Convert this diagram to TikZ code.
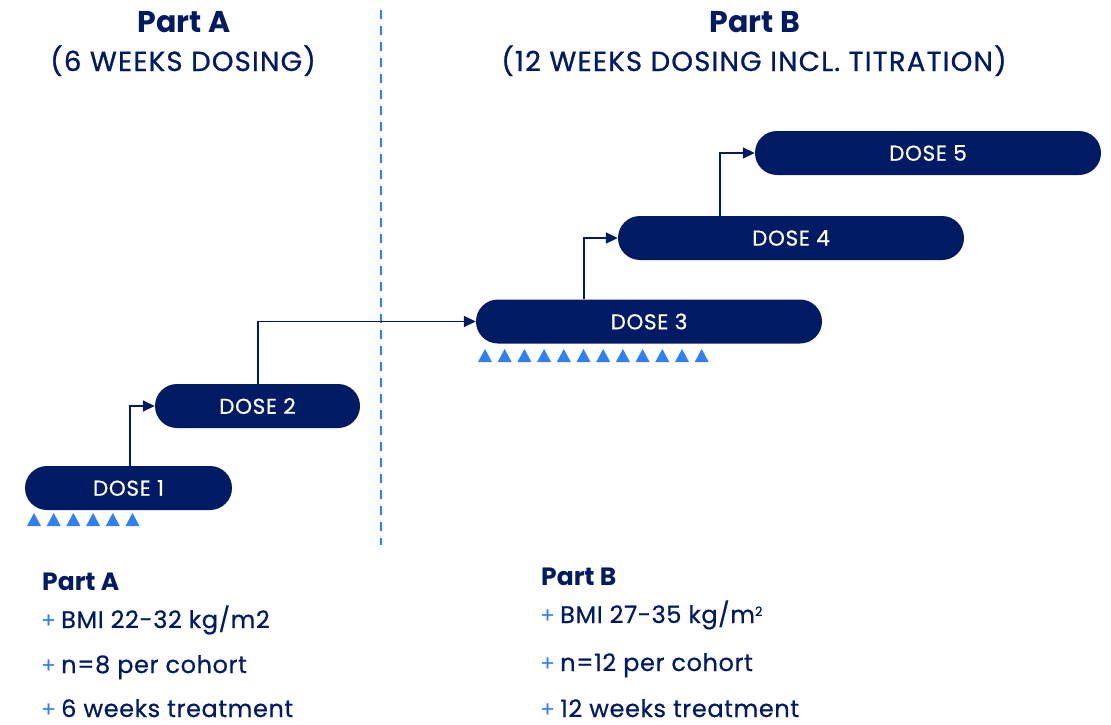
\documentclass[tikz,border=0pt]{standalone}
\usepackage{fontspec}
\setmainfont{Poppins}
\newfontfamily\capfont{Poppins}[FakeBold=0.9,LetterSpace=4.5]
\newfontfamily\dosefont{Poppins}[FakeBold=0.6,LetterSpace=3]
\newfontfamily\listfont{Poppins}[FakeBold=0.6,LetterSpace=2.5]
\usetikzlibrary{arrows.meta}
\definecolor{navy}{RGB}{0,27,100}
\definecolor{lblue}{RGB}{47,128,245}
\tikzset{
  dosebox/.style={fill=navy, rounded corners=22pt, text=white, font=\dosefont\fontsize{21.5}{24}\selectfont, inner sep=0pt, minimum height=44pt},
  conn/.style={draw=navy, line width=1.6pt, -{Triangle[length=12pt,width=11pt]}},
  head/.style={text=navy, font=\bfseries\fontsize{30}{34}\selectfont, anchor=base, inner sep=0pt},
  sub/.style={text=navy, font=\capfont\fontsize{27.5}{30}\selectfont, anchor=base, inner sep=0pt},
  lhead/.style={text=navy, font=\bfseries\fontsize{25}{28}\selectfont, anchor=base west, inner sep=0pt},
  item/.style={text=navy, font=\listfont\fontsize{24}{28}\selectfont, anchor=base west, inner sep=0pt},
  plus/.style={text=lblue, font=\fontsize{22}{28}\selectfont, anchor=base west, inner sep=0pt},
}
\begin{document}
\begin{tikzpicture}[x=1pt,y=-1pt]
\useasboundingbox (0,0) rectangle (1111,725);
% headers
\node[head] (ha) at (184,33) {Part A};
\node[sub] (sa) at (183,71) {(6 WEEKS DOSING)};
\node[head] (hb) at (755,33) {Part B};
\node[sub] (sb) at (754,71) {(12 WEEKS DOSING INCL. TITRATION)};
% divider
\draw[lblue, line width=2.8pt, dash pattern=on 9pt off 7pt] (381,10) -- (381,545);
% boxes
\node[dosebox, minimum width=207pt] (d1) at (128.5,488) {DOSE 1};
\node[dosebox, minimum width=205pt] (d2) at (257.5,406) {DOSE 2};
\node[dosebox, minimum width=346pt] (d3) at (649,321.5) {DOSE 3};
\node[dosebox, minimum width=346pt] (d4) at (791,238) {DOSE 4};
\node[dosebox, minimum width=346pt] (d5) at (928,153) {DOSE 5};
% connectors
\draw[conn] (d1.north -| 130,0) |- (d2.west);
\draw[conn] (d2.north -| 258,0) |- (d3.west);
\draw[conn] (d3.north -| 584,0) |- (d4.west);
\draw[conn] (d4.north -| 720,0) |- (d5.west);
% triangles
\foreach \i in {0,...,5} {
  \fill[lblue] ({27+19.7*\i},526) -- ({34+19.7*\i},513) -- ({41+19.7*\i},526) -- cycle;
}
\foreach \i in {0,...,11} {
  \fill[lblue] ({478+19.7*\i},362) -- ({485+19.7*\i},349) -- ({492+19.7*\i},362) -- cycle;
}
% bottom lists
\node[lhead] (la) at (42,590) {Part A};
\node[plus] (pa1) at (41,628) {+};
\node[item] (ia1) at (61,628) {BMI 22-32 kg/m2};
\node[plus] (pa2) at (41,673) {+};
\node[item] (ia2) at (61,673) {n=8 per cohort};
\node[plus] (pa3) at (41,717) {+};
\node[item] (ia3) at (61,717) {6 weeks treatment};
\node[lhead] (lb) at (541,585) {Part B};
\node[plus] (pb1) at (540,623) {+};
\node[item] (ib1) at (560,623) {BMI 27-35 kg/m\raisebox{7pt}{\fontsize{13}{14}\selectfont 2}};
\node[plus] (pb2) at (540,671) {+};
\node[item] (ib2) at (560,671) {n=12 per cohort};
\node[plus] (pb3) at (540,717) {+};
\node[item] (ib3) at (560,717) {12 weeks treatment};
\end{tikzpicture}
\end{document}
